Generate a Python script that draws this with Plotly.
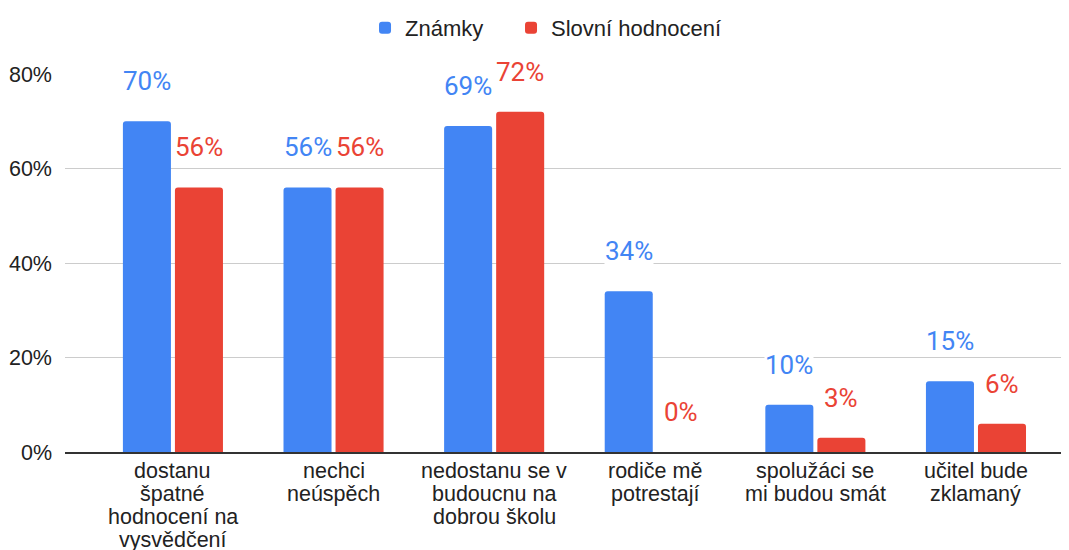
import plotly.graph_objects as go

# ---- data ----
categories = [
    "dostanu špatné hodnocení na vysvědčení",
    "nechci neúspěch",
    "nedostanu se v budoucnu na dobrou školu",
    "rodiče mě potrestají",
    "spolužáci se mi budou smát",
    "učitel bude zklamaný",
]
category_lines = [
    ["dostanu", "špatné", "hodnocení na", "vysvědčení"],
    ["nechci", "neúspěch"],
    ["nedostanu se v", "budoucnu na", "dobrou školu"],
    ["rodiče mě", "potrestají"],
    ["spolužáci se", "mi budou smát"],
    ["učitel bude", "zklamaný"],
]
znamky = [70, 56, 69, 34, 10, 15]
slovni = [56, 56, 72, 0, 3, 6]
series_names = ["Známky", "Slovní hodnocení"]
y_ticks = [0, 20, 40, 60, 80]
y_tick_text = ["0%", "20%", "40%", "60%", "80%"]

BLUE = "#4285F4"
RED = "#EA4335"
AXIS_FONT = "Liberation Sans, Arial, sans-serif"
LABEL_FONT = "Roboto, Arial, sans-serif"

fig = go.Figure()
for name, vals, col, leg in [(series_names[0], znamky, BLUE, "legend"),
                             (series_names[1], slovni, RED, "legend2")]:
    fig.add_trace(go.Bar(
        x=categories, y=vals, name=name, legend=leg,
        marker=dict(color=col, cornerradius=3, line=dict(width=0)),
        hoverinfo="x+y",
    ))

# data labels above bars
for vals, col, shift in [(znamky, BLUE, -26), (slovni, RED, 26)]:
    for c, v in zip(categories, vals):
        fig.add_annotation(
            x=c, y=v, xref="x", yref="y", text=f"{v}%",
            showarrow=False, xshift=shift, yshift=40,
            xanchor="center", yanchor="middle",
            font=dict(family=LABEL_FONT, size=26, color=col),
            bgcolor="white", borderpad=0,
        )

# category labels (tight line spacing)
for c, lines in zip(categories, category_lines):
    for i, ln in enumerate(lines):
        fig.add_annotation(
            x=c, y=0, xref="x", yref="y", text=ln,
            showarrow=False, yshift=-19 - 23 * i,
            xanchor="center", yanchor="middle",
            font=dict(family=AXIS_FONT, size=21.5, color="#222222"),
        )

legend_common = dict(
    orientation="h", xref="container", yref="container",
    y=0.963, xanchor="left", yanchor="middle",
    font=dict(family=AXIS_FONT, size=22, color="#222222"),
)

fig.update_layout(
    width=1061, height=542,
    margin=dict(l=57, r=1, t=66, b=98),
    paper_bgcolor="white", plot_bgcolor="white",
    barmode="group", bargap=0.352, bargroupgap=0.077,
    showlegend=True,
    legend=dict(x=0.3365, **legend_common),
    legend2=dict(x=0.4741, **legend_common),
    xaxis=dict(
        type="category", range=[-0.672, 5.573],
        showticklabels=False, showgrid=False, ticks="",
        showline=True, linecolor="#333333", linewidth=1.5,
        zeroline=False,
    ),
    yaxis=dict(
        range=[0, 80], tickvals=y_ticks, ticktext=y_tick_text,
        showgrid=True, gridcolor="#cccccc", gridwidth=1.3,
        zeroline=False, showline=False, ticks="",
        ticklabelstandoff=12,
        tickfont=dict(family=AXIS_FONT, size=21.5, color="#222222"),
    ),
)

fig.write_html("out.html")
